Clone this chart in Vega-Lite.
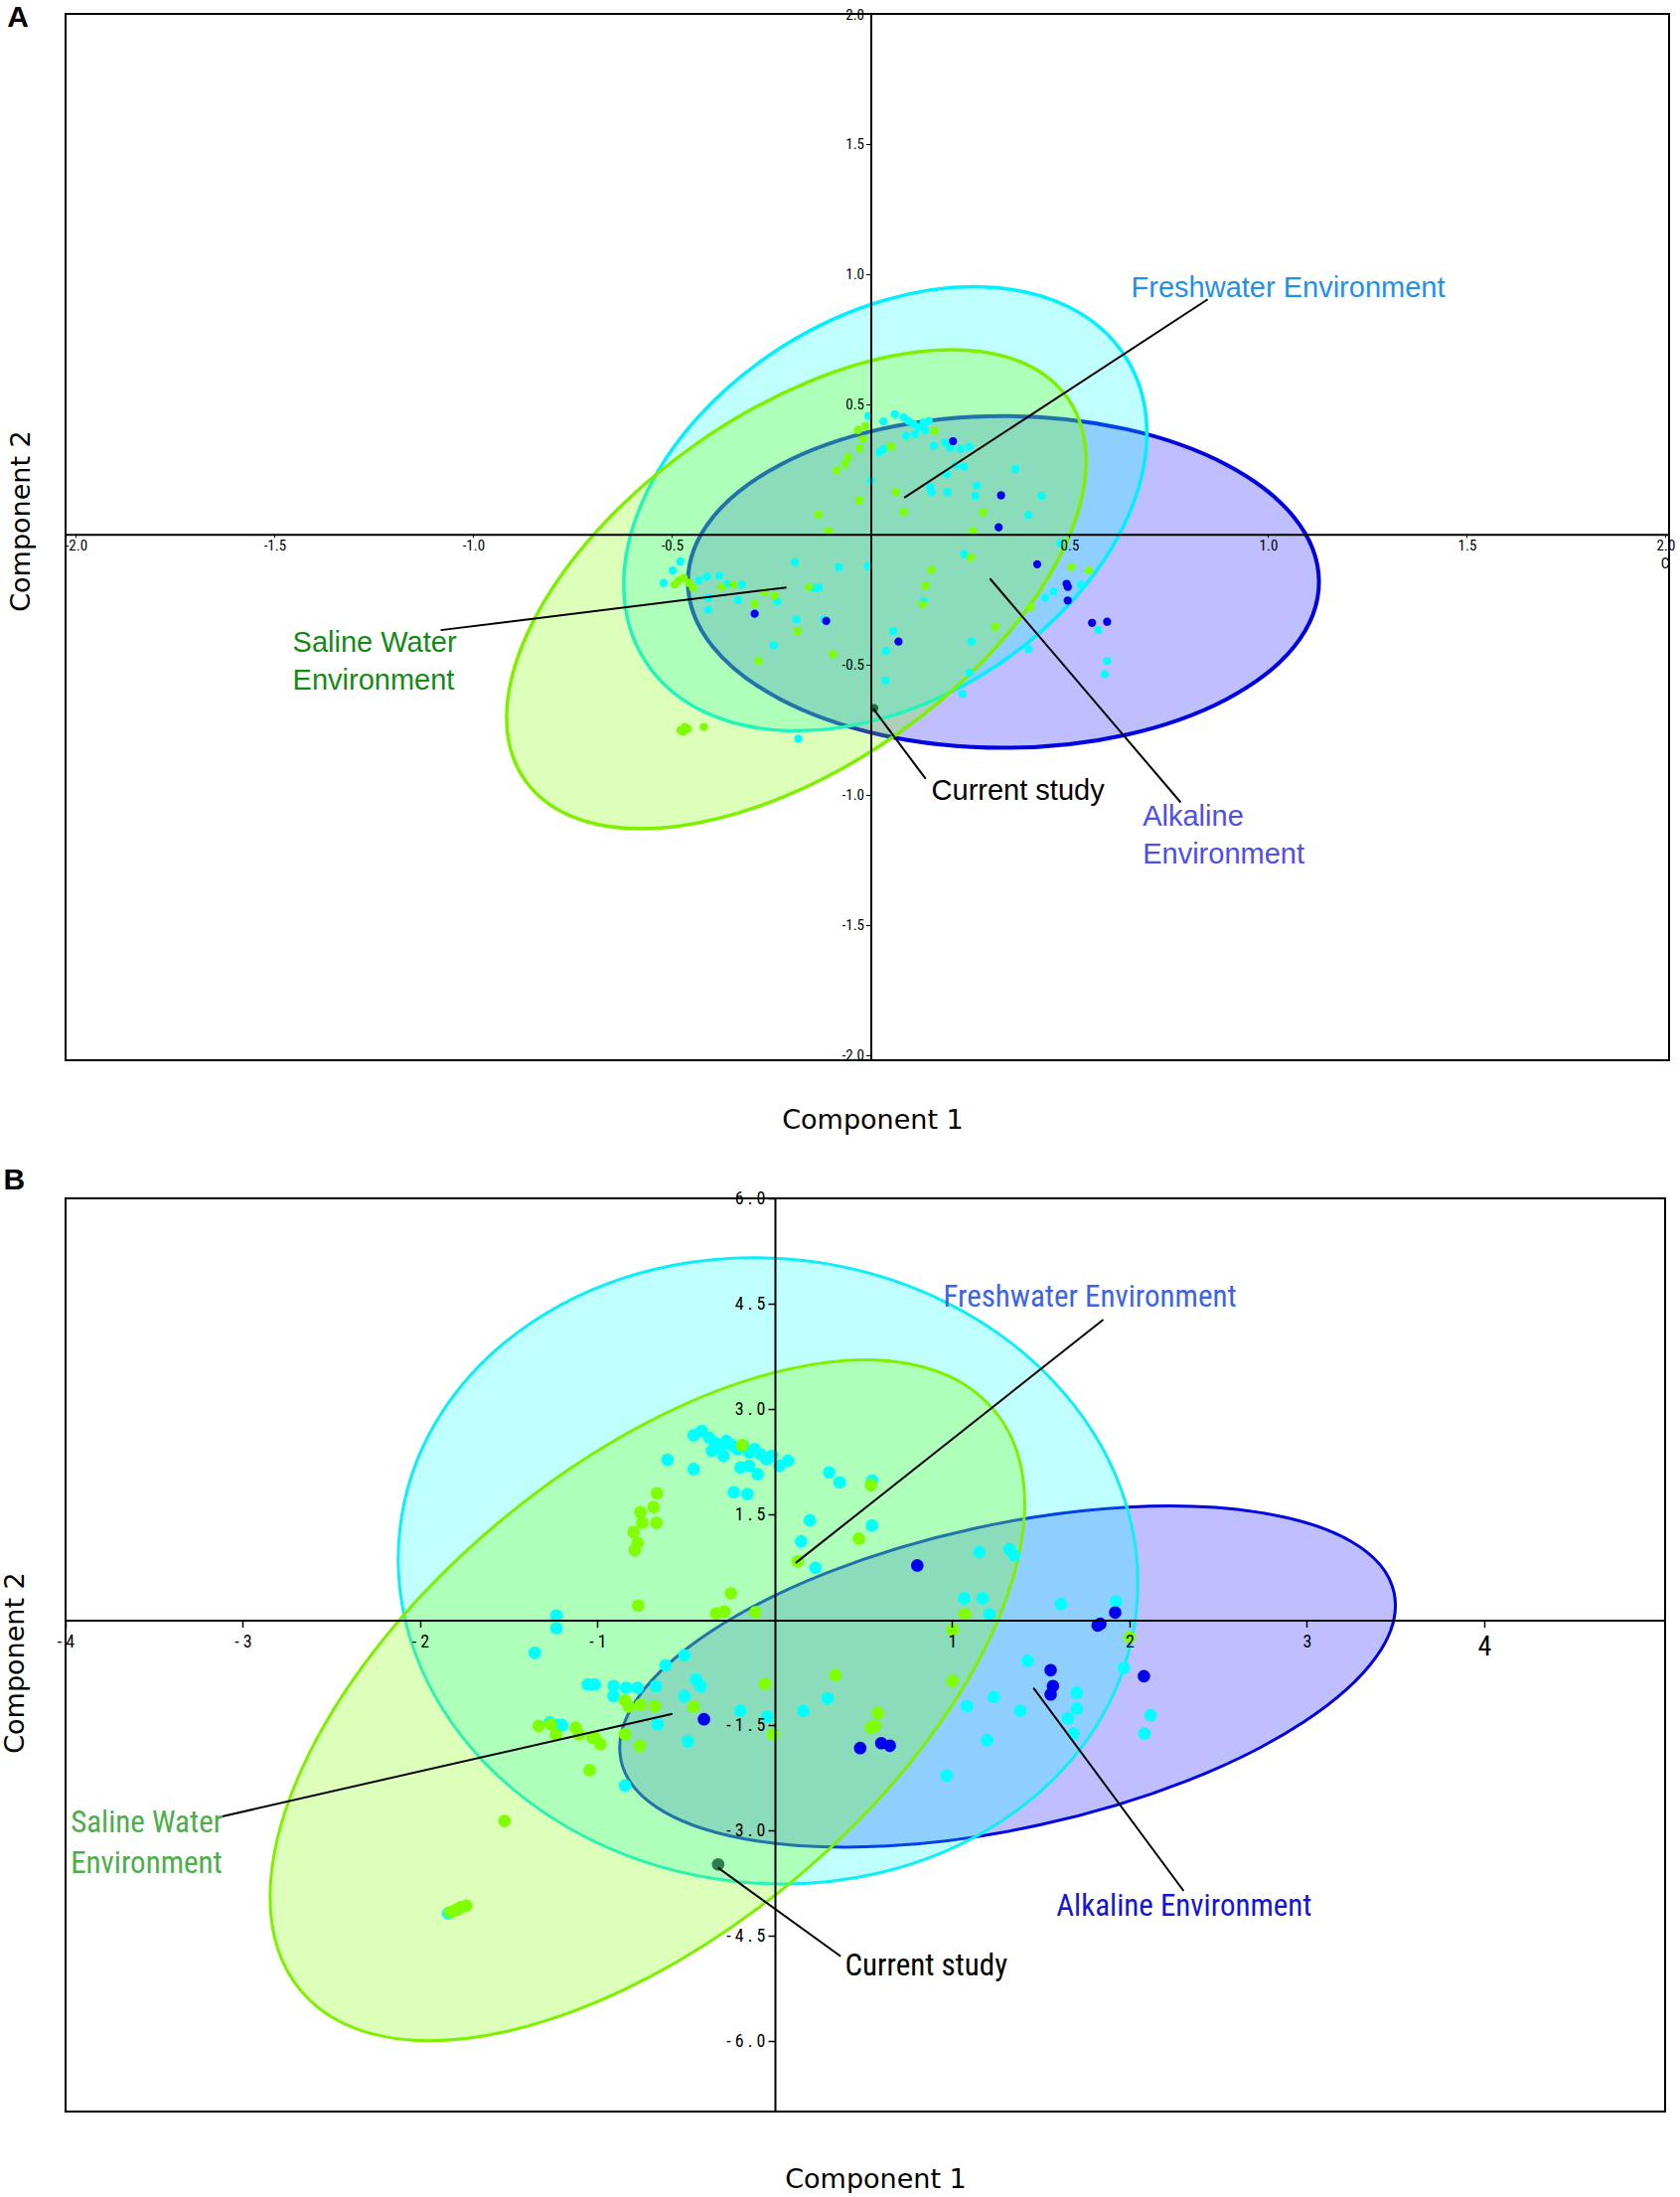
{
  "$schema": "https://vega.github.io/schema/vega-lite/v6.json",
  "background": "white",
  "padding": {"left": 0, "top": 1, "right": 0, "bottom": 0},
  "bounds": "flush",
  "spacing": 139,
  "config": {"view": {"stroke": "black", "strokeWidth": 2}},
  "resolve": {"scale": {"x": "independent", "y": "independent", "color": "independent", "fill": "independent"}},
  "datasets": {
    "ptsA": [
      {"x":-0.006,"y":0.455,"g":"Freshwater"},{"x":0.032,"y":0.434,"g":"Freshwater"},{"x":0.061,"y":0.462,"g":"Freshwater"},{"x":0.083,"y":0.449,"g":"Freshwater"},{"x":0.095,"y":0.436,"g":"Freshwater"},{"x":0.108,"y":0.424,"g":"Freshwater"},{"x":0.121,"y":0.411,"g":"Freshwater"},{"x":0.133,"y":0.43,"g":"Freshwater"},{"x":0.146,"y":0.436,"g":"Freshwater"},{"x":0.089,"y":0.379,"g":"Freshwater"},{"x":0.112,"y":0.385,"g":"Freshwater"},{"x":0.137,"y":0.401,"g":"Freshwater"},{"x":0.159,"y":0.341,"g":"Freshwater"},{"x":0.188,"y":0.354,"g":"Freshwater"},{"x":0.2,"y":0.332,"g":"Freshwater"},{"x":0.226,"y":0.328,"g":"Freshwater"},{"x":0.248,"y":0.337,"g":"Freshwater"},{"x":0.235,"y":0.261,"g":"Freshwater"},{"x":0.214,"y":0.265,"g":"Freshwater"},{"x":0.191,"y":0.233,"g":"Freshwater"},{"x":0.153,"y":0.163,"g":"Freshwater"},{"x":0.193,"y":0.163,"g":"Freshwater"},{"x":0.15,"y":0.182,"g":"Freshwater"},{"x":0.267,"y":0.188,"g":"Freshwater"},{"x":0.263,"y":0.148,"g":"Freshwater"},{"x":0.364,"y":0.251,"g":"Freshwater"},{"x":0.43,"y":0.148,"g":"Freshwater"},{"x":0.397,"y":0.074,"g":"Freshwater"},{"x":0.022,"y":0.316,"g":"Freshwater"},{"x":0.032,"y":0.328,"g":"Freshwater"},{"x":0.0,"y":0.207,"g":"Freshwater"},{"x":0.235,"y":-0.076,"g":"Freshwater"},{"x":-0.479,"y":-0.104,"g":"Freshwater"},{"x":-0.498,"y":-0.139,"g":"Freshwater"},{"x":-0.521,"y":-0.187,"g":"Freshwater"},{"x":-0.432,"y":-0.177,"g":"Freshwater"},{"x":-0.411,"y":-0.162,"g":"Freshwater"},{"x":-0.381,"y":-0.159,"g":"Freshwater"},{"x":-0.36,"y":-0.19,"g":"Freshwater"},{"x":-0.324,"y":-0.193,"g":"Freshwater"},{"x":-0.409,"y":-0.244,"g":"Freshwater"},{"x":-0.409,"y":-0.291,"g":"Freshwater"},{"x":-0.334,"y":-0.253,"g":"Freshwater"},{"x":-0.235,"y":-0.257,"g":"Freshwater"},{"x":-0.191,"y":-0.108,"g":"Freshwater"},{"x":-0.08,"y":-0.126,"g":"Freshwater"},{"x":-0.146,"y":-0.206,"g":"Freshwater"},{"x":-0.131,"y":-0.206,"g":"Freshwater"},{"x":-0.187,"y":-0.327,"g":"Freshwater"},{"x":-0.117,"y":-0.327,"g":"Freshwater"},{"x":-0.244,"y":-0.426,"g":"Freshwater"},{"x":0.057,"y":-0.372,"g":"Freshwater"},{"x":0.038,"y":-0.448,"g":"Freshwater"},{"x":0.037,"y":-0.562,"g":"Freshwater"},{"x":0.254,"y":-0.412,"g":"Freshwater"},{"x":0.248,"y":-0.531,"g":"Freshwater"},{"x":0.231,"y":-0.613,"g":"Freshwater"},{"x":0.133,"y":-0.257,"g":"Freshwater"},{"x":0.397,"y":-0.441,"g":"Freshwater"},{"x":0.439,"y":-0.244,"g":"Freshwater"},{"x":0.46,"y":-0.219,"g":"Freshwater"},{"x":0.529,"y":-0.193,"g":"Freshwater"},{"x":0.573,"y":-0.368,"g":"Freshwater"},{"x":0.595,"y":-0.486,"g":"Freshwater"},{"x":0.589,"y":-0.537,"g":"Freshwater"},{"x":0.477,"y":-0.034,"g":"Freshwater"},{"x":-0.182,"y":-0.785,"g":"Freshwater"},{"x":-0.007,"y":-0.123,"g":"Freshwater"},
      {"x":-0.032,"y":0.401,"g":"Saline"},{"x":-0.013,"y":0.417,"g":"Saline"},{"x":-0.019,"y":0.366,"g":"Saline"},{"x":-0.028,"y":0.332,"g":"Saline"},{"x":0.051,"y":0.338,"g":"Saline"},{"x":-0.057,"y":0.296,"g":"Saline"},{"x":-0.064,"y":0.271,"g":"Saline"},{"x":-0.085,"y":0.246,"g":"Saline"},{"x":0.064,"y":0.163,"g":"Saline"},{"x":-0.029,"y":0.131,"g":"Saline"},{"x":0.083,"y":0.087,"g":"Saline"},{"x":-0.131,"y":0.076,"g":"Saline"},{"x":-0.106,"y":0.013,"g":"Saline"},{"x":0.283,"y":0.084,"g":"Saline"},{"x":0.257,"y":0.013,"g":"Saline"},{"x":0.161,"y":0.398,"g":"Saline"},{"x":-0.493,"y":-0.193,"g":"Saline"},{"x":-0.483,"y":-0.177,"g":"Saline"},{"x":-0.47,"y":-0.168,"g":"Saline"},{"x":-0.457,"y":-0.187,"g":"Saline"},{"x":-0.447,"y":-0.206,"g":"Saline"},{"x":-0.375,"y":-0.202,"g":"Saline"},{"x":-0.346,"y":-0.193,"g":"Saline"},{"x":-0.292,"y":-0.266,"g":"Saline"},{"x":-0.267,"y":-0.223,"g":"Saline"},{"x":-0.242,"y":-0.235,"g":"Saline"},{"x":-0.155,"y":-0.202,"g":"Saline"},{"x":-0.184,"y":-0.372,"g":"Saline"},{"x":-0.282,"y":-0.486,"g":"Saline"},{"x":-0.095,"y":-0.461,"g":"Saline"},{"x":0.131,"y":-0.27,"g":"Saline"},{"x":0.138,"y":-0.197,"g":"Saline"},{"x":0.153,"y":-0.136,"g":"Saline"},{"x":0.252,"y":-0.088,"g":"Saline"},{"x":0.314,"y":-0.355,"g":"Saline"},{"x":0.403,"y":-0.279,"g":"Saline"},{"x":0.505,"y":-0.126,"g":"Saline"},{"x":0.549,"y":-0.139,"g":"Saline"},{"x":-0.479,"y":-0.753,"g":"Saline"},{"x":-0.468,"y":-0.74,"g":"Saline"},{"x":-0.46,"y":-0.748,"g":"Saline"},{"x":-0.42,"y":-0.74,"g":"Saline"},{"x":-0.472,"y":-0.758,"g":"Saline"},
      {"x":0.207,"y":0.358,"g":"Alkaline"},{"x":0.328,"y":0.15,"g":"Alkaline"},{"x":0.322,"y":0.027,"g":"Alkaline"},{"x":-0.292,"y":-0.305,"g":"Alkaline"},{"x":-0.112,"y":-0.333,"g":"Alkaline"},{"x":0.07,"y":-0.412,"g":"Alkaline"},{"x":0.419,"y":-0.115,"g":"Alkaline"},{"x":0.493,"y":-0.19,"g":"Alkaline"},{"x":0.496,"y":-0.202,"g":"Alkaline"},{"x":0.496,"y":-0.254,"g":"Alkaline"},{"x":0.557,"y":-0.34,"g":"Alkaline"},{"x":0.595,"y":-0.336,"g":"Alkaline"},
      {"x":0.009,"y":-0.668,"g":"Current study"}
    ],
    "ptsB": [
      {"x":-0.458,"y":2.627,"g":"Freshwater"},{"x":-0.413,"y":2.689,"g":"Freshwater"},{"x":-0.371,"y":2.594,"g":"Freshwater"},{"x":-0.339,"y":2.524,"g":"Freshwater"},{"x":-0.306,"y":2.476,"g":"Freshwater"},{"x":-0.274,"y":2.547,"g":"Freshwater"},{"x":-0.242,"y":2.486,"g":"Freshwater"},{"x":-0.21,"y":2.429,"g":"Freshwater"},{"x":-0.177,"y":2.476,"g":"Freshwater"},{"x":-0.145,"y":2.382,"g":"Freshwater"},{"x":-0.113,"y":2.429,"g":"Freshwater"},{"x":-0.081,"y":2.358,"g":"Freshwater"},{"x":-0.048,"y":2.288,"g":"Freshwater"},{"x":-0.016,"y":2.335,"g":"Freshwater"},{"x":0.026,"y":2.193,"g":"Freshwater"},{"x":-0.355,"y":2.406,"g":"Freshwater"},{"x":-0.29,"y":2.335,"g":"Freshwater"},{"x":-0.194,"y":2.17,"g":"Freshwater"},{"x":-0.145,"y":2.193,"g":"Freshwater"},{"x":-0.097,"y":2.075,"g":"Freshwater"},{"x":0.074,"y":2.264,"g":"Freshwater"},{"x":-0.606,"y":2.278,"g":"Freshwater"},{"x":-0.458,"y":2.146,"g":"Freshwater"},{"x":-0.232,"y":1.816,"g":"Freshwater"},{"x":-0.155,"y":1.792,"g":"Freshwater"},{"x":0.306,"y":2.099,"g":"Freshwater"},{"x":0.365,"y":1.958,"g":"Freshwater"},{"x":0.548,"y":1.981,"g":"Freshwater"},{"x":0.197,"y":1.415,"g":"Freshwater"},{"x":0.148,"y":1.118,"g":"Freshwater"},{"x":0.229,"y":0.741,"g":"Freshwater"},{"x":0.548,"y":1.344,"g":"Freshwater"},{"x":1.152,"y":0.962,"g":"Freshwater"},{"x":1.323,"y":1.005,"g":"Freshwater"},{"x":1.348,"y":0.92,"g":"Freshwater"},{"x":1.068,"y":0.307,"g":"Freshwater"},{"x":1.171,"y":0.307,"g":"Freshwater"},{"x":1.21,"y":0.08,"g":"Freshwater"},{"x":1.613,"y":0.226,"g":"Freshwater"},{"x":1.923,"y":0.259,"g":"Freshwater"},{"x":-1.232,"y":0.061,"g":"Freshwater"},{"x":-1.232,"y":-0.118,"g":"Freshwater"},{"x":-1.354,"y":-0.469,"g":"Freshwater"},{"x":-0.51,"y":-0.505,"g":"Freshwater"},{"x":-0.616,"y":-0.646,"g":"Freshwater"},{"x":-0.445,"y":-0.849,"g":"Freshwater"},{"x":-0.419,"y":-0.943,"g":"Freshwater"},{"x":-0.51,"y":-1.085,"g":"Freshwater"},{"x":-0.671,"y":-0.943,"g":"Freshwater"},{"x":-0.661,"y":-1.486,"g":"Freshwater"},{"x":-0.49,"y":-1.731,"g":"Freshwater"},{"x":-0.845,"y":-2.358,"g":"Freshwater"},{"x":-1.055,"y":-0.92,"g":"Freshwater"},{"x":-1.016,"y":-0.92,"g":"Freshwater"},{"x":-0.91,"y":-0.943,"g":"Freshwater"},{"x":-0.91,"y":-1.085,"g":"Freshwater"},{"x":-0.839,"y":-0.967,"g":"Freshwater"},{"x":-0.774,"y":-0.967,"g":"Freshwater"},{"x":-0.194,"y":-1.297,"g":"Freshwater"},{"x":-0.042,"y":-1.377,"g":"Freshwater"},{"x":0.161,"y":-1.297,"g":"Freshwater"},{"x":0.297,"y":-1.118,"g":"Freshwater"},{"x":1.084,"y":-1.226,"g":"Freshwater"},{"x":1.235,"y":-1.099,"g":"Freshwater"},{"x":1.384,"y":-1.297,"g":"Freshwater"},{"x":1.426,"y":-0.58,"g":"Freshwater"},{"x":1.703,"y":-1.038,"g":"Freshwater"},{"x":1.703,"y":-1.264,"g":"Freshwater"},{"x":1.652,"y":-1.401,"g":"Freshwater"},{"x":1.684,"y":-1.618,"g":"Freshwater"},{"x":1.197,"y":-1.712,"g":"Freshwater"},{"x":0.968,"y":-2.217,"g":"Freshwater"},{"x":1.968,"y":-0.684,"g":"Freshwater"},{"x":2.119,"y":-1.358,"g":"Freshwater"},{"x":2.084,"y":-1.618,"g":"Freshwater"},{"x":-1.226,"y":-1.495,"g":"Freshwater"},{"x":-1.27,"y":-1.46,"g":"Freshwater"},{"x":-1.2,"y":-1.5,"g":"Freshwater"},{"x":-1.843,"y":-4.18,"g":"Freshwater"},
      {"x":-0.184,"y":2.486,"g":"Saline"},{"x":0.542,"y":1.92,"g":"Saline"},{"x":0.474,"y":1.156,"g":"Saline"},{"x":0.129,"y":0.835,"g":"Saline"},{"x":-0.665,"y":1.802,"g":"Saline"},{"x":-0.684,"y":1.604,"g":"Saline"},{"x":-0.758,"y":1.533,"g":"Saline"},{"x":-0.748,"y":1.382,"g":"Saline"},{"x":-0.668,"y":1.382,"g":"Saline"},{"x":-0.797,"y":1.25,"g":"Saline"},{"x":-0.774,"y":1.099,"g":"Saline"},{"x":-0.79,"y":0.991,"g":"Saline"},{"x":-0.771,"y":0.203,"g":"Saline"},{"x":-0.248,"y":0.377,"g":"Saline"},{"x":-0.332,"y":0.09,"g":"Saline"},{"x":-0.284,"y":0.118,"g":"Saline"},{"x":-0.11,"y":0.108,"g":"Saline"},{"x":1.003,"y":-0.142,"g":"Saline"},{"x":1.071,"y":0.08,"g":"Saline"},{"x":2.0,"y":-0.25,"g":"Saline"},{"x":0.342,"y":-0.788,"g":"Saline"},{"x":-0.055,"y":-0.91,"g":"Saline"},{"x":-0.458,"y":-1.236,"g":"Saline"},{"x":1.003,"y":-0.873,"g":"Saline"},{"x":0.581,"y":-1.33,"g":"Saline"},{"x":0.542,"y":-1.533,"g":"Saline"},{"x":0.565,"y":-1.509,"g":"Saline"},{"x":-0.01,"y":-1.627,"g":"Saline"},{"x":-0.845,"y":-1.146,"g":"Saline"},{"x":-0.823,"y":-1.236,"g":"Saline"},{"x":-0.758,"y":-1.212,"g":"Saline"},{"x":-0.677,"y":-1.226,"g":"Saline"},{"x":-0.845,"y":-1.627,"g":"Saline"},{"x":-0.761,"y":-1.792,"g":"Saline"},{"x":-1.045,"y":-2.139,"g":"Saline"},{"x":-1.016,"y":-1.675,"g":"Saline"},{"x":-0.984,"y":-1.769,"g":"Saline"},{"x":-1.123,"y":-1.535,"g":"Saline"},{"x":-1.104,"y":-1.63,"g":"Saline"},{"x":-1.03,"y":-1.676,"g":"Saline"},{"x":-1.263,"y":-1.488,"g":"Saline"},{"x":-1.235,"y":-1.63,"g":"Saline"},{"x":-1.332,"y":-1.51,"g":"Saline"},{"x":-1.525,"y":-2.864,"g":"Saline"},{"x":-1.8,"y":-4.13,"g":"Saline"},{"x":-1.77,"y":-4.09,"g":"Saline"},{"x":-1.74,"y":-4.07,"g":"Saline"},{"x":-1.83,"y":-4.16,"g":"Saline"},{"x":-1.79,"y":-4.12,"g":"Saline"},
      {"x":0.803,"y":0.774,"g":"Alkaline"},{"x":1.835,"y":-0.057,"g":"Alkaline"},{"x":1.82,"y":-0.08,"g":"Alkaline"},{"x":1.919,"y":0.104,"g":"Alkaline"},{"x":1.555,"y":-0.717,"g":"Alkaline"},{"x":1.568,"y":-0.943,"g":"Alkaline"},{"x":1.555,"y":-1.061,"g":"Alkaline"},{"x":2.081,"y":-0.802,"g":"Alkaline"},{"x":-0.4,"y":-1.415,"g":"Alkaline"},{"x":0.481,"y":-1.825,"g":"Alkaline"},{"x":0.6,"y":-1.755,"g":"Alkaline"},{"x":0.648,"y":-1.792,"g":"Alkaline"},
      {"x":-0.32,"y":-3.482,"g":"Current study"}
    ],
    "linesA": [
      {"x":0.848,"y":0.903,"x2":0.0845,"y2":0.141},
      {"x":-1.082,"y":-0.368,"x2":-0.212,"y2":-0.204},
      {"x":0.0064,"y":-0.67,"x2":0.1385,"y2":-0.94},
      {"x":0.78,"y":-1.03,"x2":0.3,"y2":-0.17}
    ],
    "linesB": [
      {"x":1.852,"y":4.274,"x2":0.1176,"y2":0.81},
      {"x":-3.116,"y":-2.798,"x2":-0.578,"y2":-1.337},
      {"x":-0.3204,"y":-3.529,"x2":0.371,"y2":-4.79},
      {"x":1.458,"y":-0.969,"x2":2.305,"y2":-3.86}
    ],
    "textA": [
      {"x":0.6555,"y":0.912,"label":"Freshwater Environment","g":"Freshwater"},
      {"x":-1.4545,"y":-0.4507,"label":"Saline Water\nEnvironment","g":"Saline"},
      {"x":0.153,"y":-1.022,"label":"Current study","g":"Current study"},
      {"x":0.6845,"y":-1.119,"label":"Alkaline\nEnvironment","g":"Alkaline"}
    ],
    "textB": [
      {"x":0.9496,"y":4.463,"label":"Freshwater Environment","g":"Freshwater"},
      {"x":-3.971,"y":-3.02,"label":"Saline Water\nEnvironment","g":"Saline"},
      {"x":0.395,"y":-5.064,"label":"Current study","g":"Current study"},
      {"x":1.587,"y":-4.208,"label":"Alkaline Environment","g":"Alkaline"}
    ]
  },
  "vconcat": [
    {
      "width": 1614,
      "height": 1053,
      "encoding": {
        "x": {"field": "x", "type": "quantitative",
          "scale": {"domain": [-2.026, 2.009], "nice": false, "zero": false},
          "axis": {"title": "Component 1", "values": [-2, -1.5, -1, -0.5, 0.5, 1, 1.5, 2],
            "labelExpr": "(datum.value < 0 ? '-' : '') + format(abs(datum.value), '.1f')",
            "offset": -529.2, "zindex": 1, "grid": false,
            "domainColor": "black", "domainWidth": 2,
            "tickColor": "black", "tickSize": 3, "tickWidth": 1,
            "labelFont": "Liberation Sans Narrow, Arial Narrow, Roboto Condensed, DejaVu Sans Condensed, Liberation Sans, sans-serif", "labelFontSize": 15, "labelColor": "black", "labelPadding": 1,
            "labelFlush": false, "labelOverlap": false, "labelBound": false,
            "titleFont": "DejaVu Sans", "titleFontSize": 27, "titleFontWeight": "normal", "titleColor": "black",
            "titleX": 812, "titleY": 590, "titleBaseline": "middle", "titleAlign": "center", "titleAngle": 0}},
        "y": {"field": "y", "type": "quantitative",
          "scale": {"domain": [-2.021, 2.0], "nice": false, "zero": false},
          "axis": {"title": "Component 2", "values": [2, 1.5, 1, 0.5, -0.5, -1, -1.5, -2],
            "labelExpr": "(datum.value < 0 ? '-' : '') + format(abs(datum.value), '.1f')",
            "offset": -810.5, "zindex": 1, "grid": false,
            "domainColor": "black", "domainWidth": 2,
            "tickColor": "black", "tickSize": 5, "tickWidth": 1,
            "labelFont": "Liberation Sans Narrow, Arial Narrow, Roboto Condensed, DejaVu Sans Condensed, Liberation Sans, sans-serif", "labelFontSize": 15, "labelColor": "black", "labelPadding": 2,
            "labelFlush": false, "labelOverlap": false, "labelBound": false,
            "titleFont": "DejaVu Sans", "titleFontSize": 27, "titleFontWeight": "normal", "titleColor": "black",
            "titleX": -855, "titleY": 510, "titleBaseline": "middle", "titleAlign": "center", "titleAngle": 270}}
      },
      "layer": [
        {"data": {"values": [{"x": 0.334, "y": -0.183}]},
         "mark": {"type": "point", "shape": "M 317.6 0 A 317.6 166.9 0 0 1 0 166.9 A 317.6 166.9 0 0 1 -317.6 0 A 317.6 166.9 0 0 1 0 -166.9 A 317.6 166.9 0 0 1 317.6 0 Z",
           "size": 4, "filled": true, "fill": "#0000ff", "fillOpacity": 0.25, "stroke": "#0000e0", "strokeWidth": 4, "strokeOpacity": 1, "opacity": 1}},
        {"data": {"values": [{"x": 0.0368, "y": 0.098}]},
         "mark": {"type": "point", "shape": "M 242.34 -152.08 A 286.1 193.3 -32.11 0 1 102.75 163.73 A 286.1 193.3 -32.11 0 1 -242.34 152.08 A 286.1 193.3 -32.11 0 1 -102.75 -163.73 A 286.1 193.3 -32.11 0 1 242.34 -152.08 Z",
           "size": 4, "filled": true, "fill": "#00ffff", "fillOpacity": 0.25, "stroke": "#00f0ff", "strokeWidth": 3.5, "strokeOpacity": 1, "opacity": 1}},
        {"data": {"values": [{"x": -0.187, "y": -0.211}]},
         "mark": {"type": "point", "shape": "M 273.05 -192.35 A 334.0 177.6 -35.16 0 1 102.28 145.19 A 334.0 177.6 -35.16 0 1 -273.05 192.35 A 334.0 177.6 -35.16 0 1 -102.28 -145.19 A 334.0 177.6 -35.16 0 1 273.05 -192.35 Z",
           "size": 4, "filled": true, "fill": "#7fff00", "fillOpacity": 0.27, "stroke": "#7ff000", "strokeWidth": 3.5, "strokeOpacity": 1, "opacity": 1}},
        {"data": {"name": "ptsA"},
         "mark": {"type": "circle", "size": 68, "opacity": 1},
         "encoding": {"color": {"field": "g", "type": "nominal",
           "scale": {"domain": ["Freshwater", "Saline", "Alkaline", "Current study"], "range": ["#00ffff", "#80ff00", "#0000ee", "#1b6b3a"]},
           "legend": null}}},
        {"data": {"name": "linesA"},
         "mark": {"type": "rule", "color": "black", "strokeWidth": 2},
         "encoding": {"x2": {"field": "x2"}, "y2": {"field": "y2"}}},
        {"data": {"name": "textA"},
         "mark": {"type": "text", "align": "left", "baseline": "alphabetic", "font": "Liberation Sans", "fontSize": 29, "lineBreak": "\n", "lineHeight": 38},
         "encoding": {"text": {"field": "label"},
           "fill": {"field": "g", "type": "nominal",
             "scale": {"domain": ["Freshwater", "Saline", "Alkaline", "Current study"], "range": ["#1f8fef", "#148a14", "#4d4df0", "#000000"]},
             "legend": null}}},
        {"data": {"values": [{"x": -2.146, "y": 1.986, "label": "A"}]},
         "mark": {"type": "text", "font": "Liberation Sans", "fontWeight": "bold", "fontSize": 30, "align": "center", "baseline": "middle", "color": "black"},
         "encoding": {"text": {"field": "label"}}},
        {"data": {"values": [{"x": 1.999, "y": -0.111, "label": "C"}]},
         "mark": {"type": "text", "font": "Liberation Sans Narrow, Arial Narrow, Roboto Condensed, DejaVu Sans Condensed, Liberation Sans, sans-serif", "fontSize": 15, "align": "center", "baseline": "middle", "color": "black"},
         "encoding": {"text": {"field": "label"}}}
      ]
    },
    {
      "width": 1610,
      "height": 919,
      "encoding": {
        "x": {"field": "x", "type": "quantitative",
          "scale": {"domain": [-4.0, 5.02], "nice": false, "zero": false},
          "axis": {"title": "Component 1", "values": [-4, -3, -2, -1, 1, 2, 3, 4],
            "labelExpr": "(datum.value < 0 ? '- ' : '') + format(abs(datum.value), 'd')",
            "offset": -494.5, "zindex": 1, "grid": false,
            "domainColor": "black", "domainWidth": 2,
            "tickColor": "black", "tickSize": 7, "tickWidth": 1.5,
            "labelFont": "Liberation Sans Narrow, Arial Narrow, Roboto Condensed, DejaVu Sans Condensed, Liberation Sans, sans-serif", "labelFontSize": {"condition": {"test": "datum.value === 4", "value": 28}, "value": 18},
            "labelColor": "black", "labelPadding": 6,
            "labelFlush": false, "labelOverlap": false, "labelBound": false,
            "titleFont": "DejaVu Sans", "titleFontSize": 27, "titleFontWeight": "normal", "titleColor": "black",
            "titleX": 815, "titleY": 562.5, "titleBaseline": "middle", "titleAlign": "center", "titleAngle": 0}},
        "y": {"field": "y", "type": "quantitative",
          "scale": {"domain": [-7, 6], "nice": false, "zero": false},
          "axis": {"title": "Component 2", "values": [6, 4.5, 3, 1.5, -1.5, -3, -4.5, -6],
            "labelExpr": "(datum.value < 0 ? '- ' : '') + join(split(format(abs(datum.value), '.1f'), ''), ' ')",
            "offset": -714, "zindex": 1, "grid": false,
            "domainColor": "black", "domainWidth": 2,
            "tickColor": "black", "tickSize": 7, "tickWidth": 1.5,
            "labelFont": "Liberation Sans Narrow, Arial Narrow, Roboto Condensed, DejaVu Sans Condensed, Liberation Sans, sans-serif", "labelFontSize": 18, "labelColor": "black", "labelPadding": 3,
            "labelFlush": false, "labelOverlap": false, "labelBound": false,
            "titleFont": "DejaVu Sans", "titleFontSize": 27, "titleFontWeight": "normal", "titleColor": "black",
            "titleX": -764.5, "titleY": 467, "titleBaseline": "middle", "titleAlign": "center", "titleAngle": 270}}
      },
      "layer": [
        {"data": {"values": [{"x": 1.312, "y": -0.808}]},
         "mark": {"type": "point", "shape": "M 389.01 -84.61 A 398.1 152.8 -12.27 0 1 32.47 149.31 A 398.1 152.8 -12.27 0 1 -389.01 84.61 A 398.1 152.8 -12.27 0 1 -32.47 -149.31 A 398.1 152.8 -12.27 0 1 389.01 -84.61 Z",
           "size": 4, "filled": true, "fill": "#0000ff", "fillOpacity": 0.25, "stroke": "#0000e0", "strokeWidth": 3, "strokeOpacity": 1, "opacity": 1}},
        {"data": {"values": [{"x": -0.0387, "y": 0.697}]},
         "mark": {"type": "point", "shape": "M 370.5 42.21 A 372.9 314.3 6.5 0 1 -35.58 312.28 A 372.9 314.3 6.5 0 1 -370.5 -42.21 A 372.9 314.3 6.5 0 1 35.58 -312.28 A 372.9 314.3 6.5 0 1 370.5 42.21 Z",
           "size": 4, "filled": true, "fill": "#00ffff", "fillOpacity": 0.25, "stroke": "#10eef5", "strokeWidth": 3, "strokeOpacity": 1, "opacity": 1}},
        {"data": {"values": [{"x": -0.719, "y": -1.146}]},
         "mark": {"type": "point", "shape": "M 348.91 -292.04 A 455.0 233.3 -39.93 0 1 149.74 178.9 A 455.0 233.3 -39.93 0 1 -348.91 292.04 A 455.0 233.3 -39.93 0 1 -149.74 -178.9 A 455.0 233.3 -39.93 0 1 348.91 -292.04 Z",
           "size": 4, "filled": true, "fill": "#7fff00", "fillOpacity": 0.27, "stroke": "#7ff000", "strokeWidth": 3, "strokeOpacity": 1, "opacity": 1}},
        {"data": {"name": "ptsB"},
         "mark": {"type": "circle", "size": 160, "opacity": 1},
         "encoding": {"color": {"field": "g", "type": "nominal",
           "scale": {"domain": ["Freshwater", "Saline", "Alkaline", "Current study"], "range": ["#00ffff", "#80ff00", "#0000ee", "#2e7d4f"]},
           "legend": null}}},
        {"data": {"name": "linesB"},
         "mark": {"type": "rule", "color": "black", "strokeWidth": 2},
         "encoding": {"x2": {"field": "x2"}, "y2": {"field": "y2"}}},
        {"data": {"name": "textB"},
         "mark": {"type": "text", "align": "left", "baseline": "alphabetic", "font": "Liberation Sans Narrow, Arial Narrow, Roboto Condensed, DejaVu Sans Condensed, Liberation Sans, sans-serif", "fontSize": 31, "lineBreak": "\n", "lineHeight": 41},
         "encoding": {"text": {"field": "label"},
           "fill": {"field": "g", "type": "nominal",
             "scale": {"domain": ["Freshwater", "Saline", "Alkaline", "Current study"], "range": ["#3d65e3", "#4cae4a", "#1515d8", "#000000"]},
             "legend": null}}},
        {"data": {"values": [{"x": -4.29, "y": 6.252, "label": "B"}]},
         "mark": {"type": "text", "font": "Liberation Sans", "fontWeight": "bold", "fontSize": 30, "align": "center", "baseline": "middle", "color": "black"},
         "encoding": {"text": {"field": "label"}}}
      ]
    }
  ]
}
